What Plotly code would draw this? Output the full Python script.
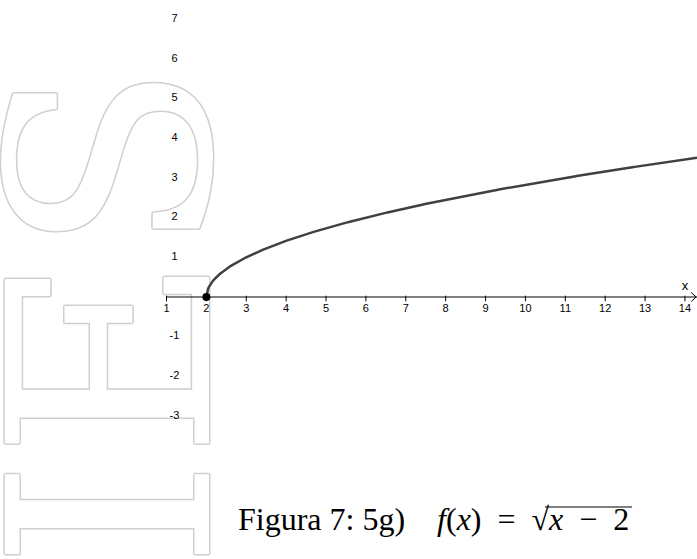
import numpy as np
import plotly.graph_objects as go

# Axis ticks and their labels
x_ticks = [1, 2, 3, 4, 5, 6, 7, 8, 9, 10, 11, 12, 13, 14]
x_tick_labels = ["1", "2", "3", "4", "5", "6", "7", "8", "9", "10", "11", "12", "13", "14"]
y_ticks = [-3, -2, -1, 1, 2, 3, 4, 5, 6, 7]
y_tick_labels = ["-3", "-2", "-1", "1", "2", "3", "4", "5", "6", "7"]

# Start point of f(x) = sqrt(x - 2)
point_x = [2]
point_y = [0]

# Visible window
x_min, x_max = -3.175, 14.302
y_min, y_max = -6.599, 7.481

curve_x = np.linspace(point_x[0], x_max, 600)
curve_y = np.sqrt(curve_x - 2)

W, H = 697, 559
px_per_x = W / (x_max - x_min)
px_per_y = H / (y_max - y_min)

fig = go.Figure()

# Outlined "IES" mark behind the graph (text carried by a wide, invisible bar)
outline = "#cfcfcf"
shadow = ", ".join(
    f"{dx}px {dy}px 0 {outline}"
    for dx, dy in [(1.5, 0), (-1.5, 0), (0, 1.5), (0, -1.5), (1, 1), (-1, -1), (1, -1), (-1, 1)]
)
mark_cx, mark_cy = -0.367, 4.68
fig.add_trace(go.Bar(
    x=[mark_cx], y=[mark_cy + 15], base=[mark_cy - 15], width=[12.0],
    marker=dict(color="rgba(0,0,0,0)", line=dict(width=0)),
    text=["IES"], textposition="inside", textangle=-90,
    insidetextanchor="middle", constraintext="none",
    insidetextfont=dict(family="DejaVu Serif", size=280, color="white", shadow=shadow),
    hoverinfo="skip", showlegend=False,
))

# x axis line from x = 1 to the right edge
fig.add_trace(go.Scatter(
    x=[x_ticks[0], x_max], y=[0, 0], mode="lines",
    line=dict(color="black", width=1), hoverinfo="skip", showlegend=False,
))
# arrow head at the right end of the axis
ah_dx = 5 / px_per_x
ah_dy = 4.5 / px_per_y
fig.add_trace(go.Scatter(
    x=[x_max - ah_dx - 0.02, x_max - 0.02, x_max - ah_dx - 0.02],
    y=[ah_dy, 0, -ah_dy], mode="lines",
    line=dict(color="black", width=1), hoverinfo="skip", showlegend=False,
))
# tick marks
fig.add_trace(go.Scatter(
    x=x_ticks, y=[-1.5 / px_per_y] * len(x_ticks), mode="markers",
    marker=dict(symbol="line-ns", size=4, line=dict(color="black", width=1)),
    hoverinfo="skip", showlegend=False,
))
# x tick labels
fig.add_trace(go.Scatter(
    x=x_ticks, y=[-12 / px_per_y] * len(x_ticks), mode="text",
    text=x_tick_labels, textposition="middle center",
    textfont=dict(family="Liberation Sans", size=11, color="black"),
    hoverinfo="skip", showlegend=False,
))
# y tick labels
fig.add_trace(go.Scatter(
    x=[x_ticks[0] + 8 / px_per_x] * len(y_ticks), y=y_ticks, mode="text",
    text=y_tick_labels, textposition="middle center",
    textfont=dict(family="Liberation Sans", size=11, color="black"),
    hoverinfo="skip", showlegend=False,
))
# axis name
fig.add_trace(go.Scatter(
    x=[x_ticks[-1]], y=[10 / px_per_y], mode="text", text=["x"],
    textposition="middle center",
    textfont=dict(family="Liberation Sans", size=13, color="black"),
    hoverinfo="skip", showlegend=False,
))

# f(x) = sqrt(x - 2)
fig.add_trace(go.Scatter(
    x=curve_x, y=curve_y, mode="lines",
    line=dict(color="#404040", width=2.5), hoverinfo="skip", showlegend=False,
))
fig.add_trace(go.Scatter(
    x=point_x, y=point_y, mode="markers",
    marker=dict(color="black", size=8), hoverinfo="skip", showlegend=False,
))

# Caption
EM, EN = "\u2003", "\u2002"
fig.add_annotation(
    xref="paper", yref="paper", x=236 / W, y=1 - 519 / H,
    xanchor="left", yanchor="middle", showarrow=False,
    text=f"Figura 7: 5g){EM}<i>f</i>(<i>x</i>){EN}={EN}√<i>x</i>{EN}−{EN}2",
    font=dict(family="Liberation Serif", size=32, color="black"),
)
fig.add_shape(
    type="line", xref="paper", yref="paper",
    x0=545 / W, x1=632 / W, y0=1 - 507 / H, y1=1 - 507 / H,
    line=dict(color="black", width=1.2),
)

fig.update_layout(
    width=W, height=H,
    margin=dict(l=0, r=0, t=0, b=0),
    paper_bgcolor="white", plot_bgcolor="white",
    xaxis=dict(range=[x_min, x_max], visible=False, fixedrange=True),
    yaxis=dict(range=[y_min, y_max], visible=False, fixedrange=True),
    showlegend=False,
)

fig.write_html("out.html")
